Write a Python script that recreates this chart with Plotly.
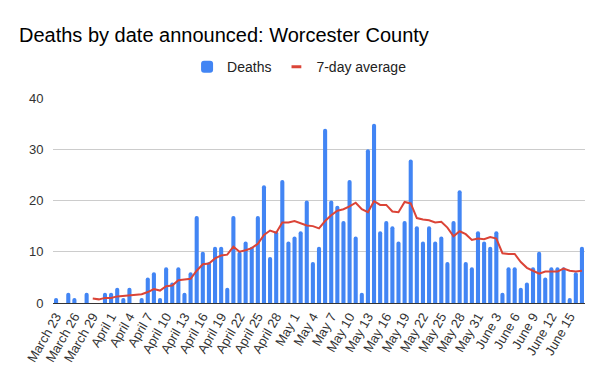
import plotly.graph_objects as go

dates = (
    ["March %d" % d for d in range(23, 32)]
    + ["April %d" % d for d in range(1, 31)]
    + ["May %d" % d for d in range(1, 32)]
    + ["June %d" % d for d in range(1, 18)]
)

deaths = [1, 0, 2, 1, 0, 2, 0, 0, 2, 2, 3, 1, 3, 0, 1, 5, 6, 1, 7, 4,
          7, 2, 6, 17, 10, 8, 11, 11, 3, 17, 10, 12, 11, 17, 23, 9, 14, 24, 12, 13,
          14, 20, 8, 11, 34, 20, 19, 16, 24, 13, 2, 30, 35, 14, 16, 15, 12, 16, 28, 15,
          12, 15, 12, 13, 8, 16, 22, 8, 7, 14, 12, 11, 14, 2, 7, 7, 3, 4, 7, 10,
          5, 7, 7, 7, 1, 6, 11]

avg7 = [None, None, None, None, None, None,
        0.86, 0.71, 1.00, 1.00, 1.29, 1.43, 1.57, 1.57, 1.71, 2.14, 2.71, 2.43, 3.29, 3.43,
        4.43, 4.57, 4.71, 6.29, 7.57, 7.71, 8.71, 9.29, 9.43, 11.00, 10.00, 10.29, 10.71, 11.57,
        13.29, 14.14, 13.71, 15.71, 15.71, 16.00, 15.57, 15.14, 15.00, 14.57, 16.00, 17.14,
        18.00, 18.29, 18.86, 19.57, 18.29, 17.71, 19.86, 19.14, 19.14, 17.86, 17.71, 19.71,
        19.43, 16.57, 16.29, 16.14, 15.71, 15.86, 14.71, 13.00, 14.00, 13.43, 12.29, 12.57,
        12.43, 12.86, 12.57, 9.71, 9.57, 9.57, 8.00, 6.86, 6.29, 5.71, 6.14, 6.14, 6.14,
        6.71, 6.29, 6.14, 6.29]

tick_labels = dates[::3]
y_ticks = [0, 10, 20, 30, 40]

BLUE = "#4285F4"
RED = "#DB4437"
FONT = "Arial, Liberation Sans, sans-serif"

fig = go.Figure()
fig.add_trace(go.Bar(
    x=dates, y=deaths, name="Deaths",
    marker=dict(color=BLUE, cornerradius=2, line=dict(width=0)),
))
fig.add_trace(go.Scatter(
    x=dates, y=avg7, mode="lines", name="7-day average", showlegend=False,
    line=dict(color=RED, width=2), connectgaps=False,
))
fig.add_trace(go.Scatter(
    x=[None], y=[None], mode="markers", name="7-day average",
    marker=dict(symbol="line-ew", size=7, color=RED, line=dict(color=RED, width=3)),
))

fig.update_layout(
    width=596, height=368,
    margin=dict(l=45, r=19, t=90, b=73),
    paper_bgcolor="white", plot_bgcolor="white",
    font=dict(family=FONT, color="#222"),
    title=dict(text="Deaths by date announced: Worcester County",
               x=11 / 596, xanchor="left", xref="container",
               y=1 - 27 / 368, yanchor="middle", yref="container",
               font=dict(size=20, color="#000", family=FONT)),
    bargap=0.33,
    showlegend=True,
    legend=dict(orientation="h", x=0.252, xanchor="left", y=1.15, yanchor="middle",
                font=dict(size=14, color="#222"), itemwidth=30,
                bgcolor="rgba(0,0,0,0)"),
    xaxis=dict(type="category", tickmode="array", tickvals=tick_labels, ticktext=tick_labels,
               tickangle=-60, tickfont=dict(size=13, color="#333"),
               showgrid=False, showline=True, linecolor="#333", linewidth=1,
               ticks="", automargin=False),
    yaxis=dict(range=[0, 40], tickvals=y_ticks, showgrid=True, gridcolor="#ccc",
               tickfont=dict(size=13, color="#333"), zeroline=False,
               ticks="outside", ticklen=6, tickcolor="rgba(0,0,0,0)", automargin=False),
)

fig.write_html("out.html")
